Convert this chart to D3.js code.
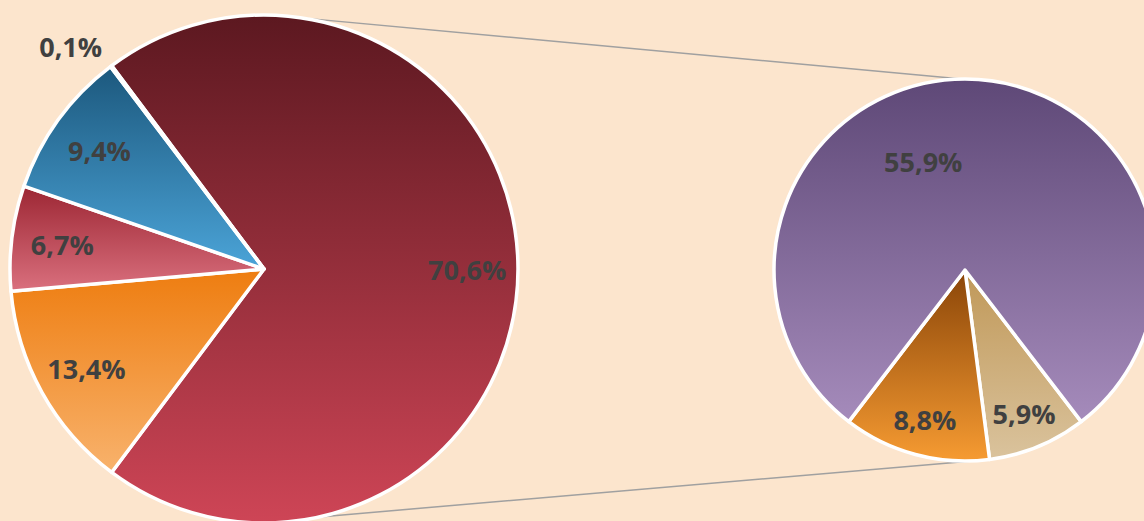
<!DOCTYPE html>
<html>
<head>
<meta charset="utf-8">
<script src="https://cdn.jsdelivr.net/npm/d3@7"></script>
<style>
  html, body { margin: 0; padding: 0; background: #FCE5CD; }
  svg { display: block; }
  .label { font-family: "Open Sans", sans-serif; font-weight: bold; font-size: 27px; fill: #404040; }
</style>
</head>
<body>
<div id="chart"></div>
<script>
// Main pie: first slice is the "other" slice that is split out into the second pie
const mainCategories = ["Other", "Cat B", "Cat C", "Cat D", "Cat E"];
const mainValues = [70.6, 13.4, 6.7, 9.4, 0.1];

// Secondary pie (breakdown of the "Other" slice), clockwise from bottom right
const subCategories = ["Sub C", "Sub B", "Sub A"];
const subValues = [5.9, 8.8, 55.9];

// Gradient colours (top, bottom) for each slice
const mainColors = [["#5C1820", "#CE4556"], ["#EE7D10", "#F8B26C"], ["#9C2633", "#DA707E"], ["#1C587D", "#4BA4D8"], ["#3E7A3A", "#7DBA6E"]];
const subColors = [["#C09858", "#DAC39D"], ["#8A4508", "#F69B32"], ["#5E4877", "#A58BBB"]];

const WIDTH = 1144;
const HEIGHT = 521;
const MAIN = { cx: 264, cy: 269, r: 254 };
const SUB = { cx: 965, cy: 270, r: 191 };
const rad = deg => deg * Math.PI / 180;

const fmt = d3.formatLocale({ decimal: ",", thousands: ".", grouping: [3], currency: ["", ""] }).format(".1f");

const svg = d3.select("#chart")
  .append("svg")
  .attr("width", WIDTH)
  .attr("height", HEIGHT);

const defs = svg.append("defs");
function addGradient(id, colors) {
  const g = defs.append("linearGradient")
    .attr("id", id)
    .attr("x1", 0).attr("y1", 0).attr("x2", 0).attr("y2", 1);
  g.append("stop").attr("offset", "0%").attr("stop-color", colors[0]);
  g.append("stop").attr("offset", "100%").attr("stop-color", colors[1]);
}
mainColors.forEach((c, i) => addGradient("main-grad-" + i, c));
subColors.forEach((c, i) => addGradient("sub-grad-" + i, c));

// Main pie layout: "Other" slice centred on the right side
const mainTotal = d3.sum(mainValues);
const otherSpan = mainValues[0] / mainTotal * 2 * Math.PI;
const mainStart = Math.PI / 2 - otherSpan / 2;
const mainPie = d3.pie().sort(null).startAngle(mainStart).endAngle(mainStart + 2 * Math.PI);
const mainArcs = mainPie(mainValues);

// Secondary pie: the two small slices centred at the bottom
const subTotal = d3.sum(subValues);
const smallSpan = (subValues[0] + subValues[1]) / subTotal * 2 * Math.PI;
const subStart = Math.PI - smallSpan / 2;
const subPie = d3.pie().sort(null).startAngle(subStart).endAngle(subStart + 2 * Math.PI);
const subArcs = subPie(subValues);

const mainArc = d3.arc().innerRadius(0).outerRadius(MAIN.r);
const subArc = d3.arc().innerRadius(0).outerRadius(SUB.r);

// Connector lines between the two pies
const pt = (c, deg, r) => [c.cx + Math.sin(rad(deg)) * r, c.cy - Math.cos(rad(deg)) * r];
const connectors = [
  [pt(MAIN, 9, MAIN.r), pt(SUB, -1, SUB.r)],
  [pt(MAIN, 167.4, MAIN.r), pt(SUB, 177, SUB.r)]
];
svg.selectAll(".connector")
  .data(connectors)
  .enter()
  .append("line")
  .attr("class", "connector")
  .attr("x1", d => d[0][0]).attr("y1", d => d[0][1])
  .attr("x2", d => d[1][0]).attr("y2", d => d[1][1])
  .attr("stroke", "#A0A0A0")
  .attr("stroke-width", 1.5);

// Main pie
const mainG = svg.append("g").attr("transform", "translate(" + MAIN.cx + "," + MAIN.cy + ")");
mainG.selectAll("path")
  .data(mainArcs)
  .enter()
  .append("path")
  .attr("d", mainArc)
  .attr("fill", (d, i) => "url(#main-grad-" + i + ")")
  .attr("stroke", "#FFFFFF")
  .attr("stroke-width", 3.5)
  .attr("stroke-linejoin", "round");

mainG.selectAll(".label")
  .data(mainArcs)
  .enter()
  .append("text")
  .attr("class", "label")
  .attr("text-anchor", "middle")
  .attr("dy", "0.4em")
  .attr("transform", d => {
    let a = (d.startAngle + d.endAngle) / 2;
    let r = MAIN.r * 0.8;
    if (d.value < 1) { a -= rad(4); r = MAIN.r * 1.16; } // tiny slice: label outside
    return "translate(" + Math.sin(a) * r + "," + (-Math.cos(a) * r) + ")";
  })
  .text(d => fmt(d.value) + "%");

// Secondary pie
const subG = svg.append("g").attr("transform", "translate(" + SUB.cx + "," + SUB.cy + ")");
subG.selectAll("path")
  .data(subArcs)
  .enter()
  .append("path")
  .attr("d", subArc)
  .attr("fill", (d, i) => "url(#sub-grad-" + i + ")")
  .attr("stroke", "#FFFFFF")
  .attr("stroke-width", 3.5)
  .attr("stroke-linejoin", "round");

subG.selectAll(".label")
  .data(subArcs)
  .enter()
  .append("text")
  .attr("class", "label")
  .attr("text-anchor", "middle")
  .attr("dy", "0.4em")
  .attr("transform", d => {
    let a = (d.startAngle + d.endAngle) / 2;
    let r = SUB.r * 0.81;
    if (d.endAngle - d.startAngle > Math.PI) { a -= rad(21); r = SUB.r * 0.61; } // big slice label sits up-left
    return "translate(" + Math.sin(a) * r + "," + (-Math.cos(a) * r) + ")";
  })
  .text(d => fmt(d.value) + "%");
</script>
</body>
</html>
